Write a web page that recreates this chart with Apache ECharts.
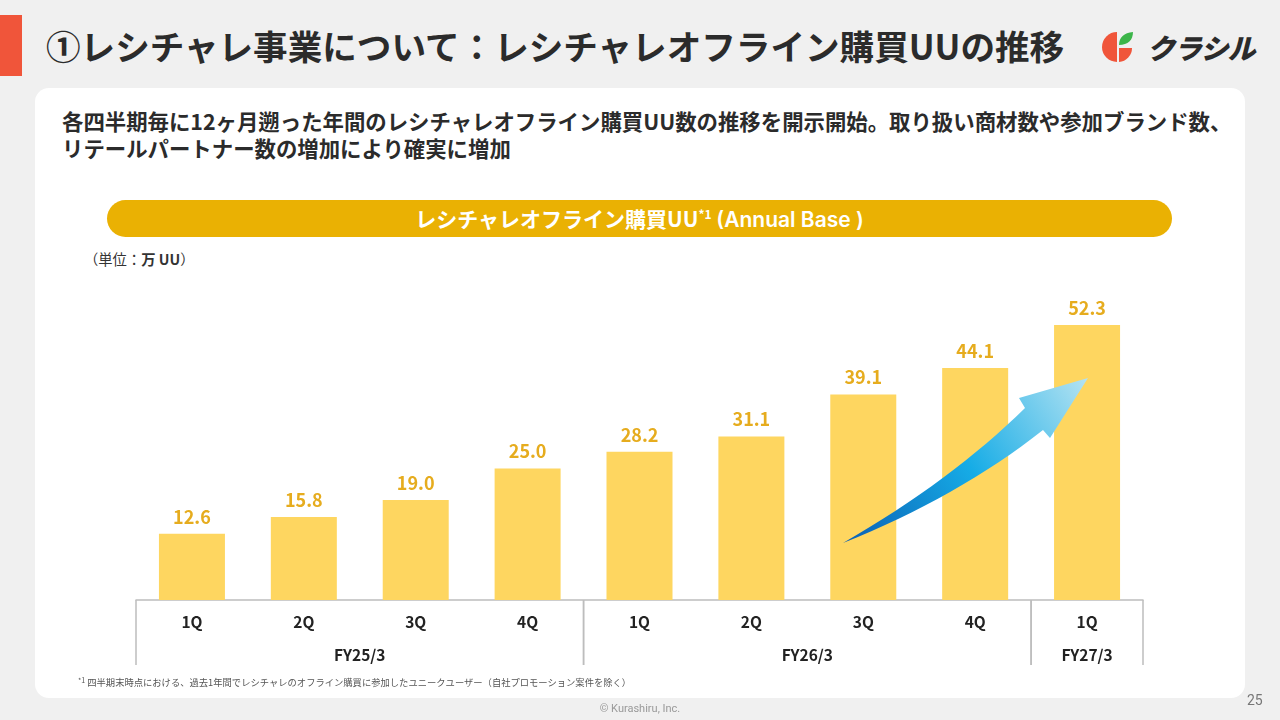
<!DOCTYPE html>
<html lang="ja">
<head>
<meta charset="utf-8">
<script src="https://cdn.jsdelivr.net/npm/echarts@6/dist/echarts.min.js"></script>
<style>
  html, body { margin: 0; padding: 0; }
  body {
    width: 1280px; height: 720px; position: relative; overflow: hidden;
    background: #f0f0f0; font-family: "Noto Sans CJK JP", "Noto Sans", sans-serif; color: #2b2b2b;
  }
  .accent { position: absolute; left: 0; top: 15px; width: 22px; height: 61px; background: #f0553a; }
  .title { position: absolute; left: 46px; top: 21px; font-size: 34.6px; font-weight: 700; line-height: 48px; color: #2b2b2b; white-space: nowrap; }
  .logo { position: absolute; left: 1101px; top: 29px; height: 36px; display: flex; align-items: center; }
  .logo span { font-size: 28px; font-weight: 900; font-style: italic; color: #2b2b2b; margin-left: 12px; letter-spacing: -1px; }
  .card { position: absolute; left: 35px; top: 88px; width: 1210px; height: 610px; background: #fff; border-radius: 14px; }
  .lead { position: absolute; left: 62px; top: 107px; font-size: 21.4px; font-weight: 700; line-height: 27px; color: #2b2b2b; white-space: nowrap; }
  .pill { position: absolute; left: 107px; top: 200px; width: 1065px; height: 37px; border-radius: 19px; background: #eab103;
          color: #fff; font-size: 21px; font-weight: 700; text-align: center; line-height: 37px; }
  .pill sup { font-size: 12px; line-height: 0; vertical-align: 8px; }
  .pill .en { font-family: "Inter", "Noto Sans", sans-serif; font-weight: 600; }
  .unit { position: absolute; left: 84px; top: 249px; font-size: 14.3px; line-height: 20px; color: #333; }
  .unit b { font-weight: 700; }
  #chart { position: absolute; left: 0; top: 0; width: 1280px; height: 720px; }
  .note { position: absolute; left: 78px; top: 675px; font-size: 9.3px; line-height: 14px; color: #555; white-space: nowrap; }
  .note sup { font-size: 7px; vertical-align: 3px; line-height: 0; }
  .copy { position: absolute; left: 0; width: 1280px; top: 702px; text-align: center; font-size: 11px; color: #999; font-family: "Roboto", sans-serif; }
  .page { position: absolute; left: 1247px; top: 692px; font-size: 14px; color: #777; font-family: "Roboto", sans-serif; }
</style>
</head>
<body>
<div class="accent"></div>
<div class="title">①レシチャレ事業について：レシチャレオフライン購買UUの推移</div>
<div class="logo">
  <svg width="34" height="34" viewBox="0 0 34 34">
    <path d="M16 2 A15 15 0 0 0 16 32 Z" fill="#f0553a"/>
    <path d="M18 18 L31 18 A14 14 0 0 1 18 32 Z" fill="#f0553a"/>
    <path d="M18 15 C18 7 23 3 32 2 C32 10 27 15 18 15 Z" fill="#3cb54a"/>
  </svg>
  <span>クラシル</span>
</div>
<div class="card"></div>
<div class="lead">各四半期毎に12ヶ月遡った年間のレシチャレオフライン購買UU数の推移を開示開始。取り扱い商材数や参加ブランド数、<br>リテールパートナー数の増加により確実に増加</div>
<div class="pill">レシチャレオフライン購買UU<sup>*1</sup> <span class="en">(Annual Base )</span></div>
<div class="unit">（単位：<b>万 UU</b>）</div>
<div id="chart"></div>
<div class="note"><sup>*1</sup> 四半期末時点における、過去1年間でレシチャレのオフライン購買に参加したユニークユーザー（自社プロモーション案件を除く）</div>
<div class="copy">© Kurashiru, Inc.</div>
<div class="page">25</div>

<script>
// --- データ ---
const periods = ['FY25/3 1Q', 'FY25/3 2Q', 'FY25/3 3Q', 'FY25/3 4Q', 'FY26/3 1Q', 'FY26/3 2Q', 'FY26/3 3Q', 'FY26/3 4Q', 'FY27/3 1Q'];
const quarters = ['1Q', '2Q', '3Q', '4Q', '1Q', '2Q', '3Q', '4Q', '1Q'];
const uuValues = [12.6, 15.8, 19.0, 25.0, 28.2, 31.1, 39.1, 44.1, 52.3];
const fyLabels = ['FY25/3', 'FY26/3', 'FY27/3'];
const fyStart = [0, 4, 8];
const fyEnd = [3, 7, 8];

const FONT = '"Noto Sans CJK JP", "Noto Sans", sans-serif';
const chart = echarts.init(document.getElementById('chart'));

// 年度ごとの区切り線とラベル（カテゴリ軸の座標から描く）
function renderFiscal(params, api) {
    const s = api.value(0), e = api.value(2);
    const band = api.size([1, 0])[0];
    const p0 = api.coord([s, 0]);
    const p1 = api.coord([e, 0]);
    const left = p0[0] - band / 2, right = p1[0] + band / 2, y = p0[1];
    const lineStyle = { stroke: '#bdbdbd', lineWidth: 1.5 };
    return {
        type: 'group',
        children: [
            { type: 'line', shape: { x1: left, y1: y, x2: left, y2: y + 65 }, style: lineStyle },
            { type: 'line', shape: { x1: right, y1: y, x2: right, y2: y + 65 }, style: lineStyle },
            {
                type: 'text',
                style: {
                    text: fyLabels[params.dataIndex], x: (left + right) / 2, y: y + 55,
                    align: 'center', verticalAlign: 'middle',
                    font: 'bold 15.5px ' + FONT, fill: '#222'
                }
            }
        ]
    };
}

// 装飾の矢印：二次ベジェで軸をなぞってポリゴン化
function quad(p0, c, p1, n) {
    const pts = [];
    for (let k = 0; k <= n; k++) {
        const t = k / n, u = 1 - t;
        pts.push([u * u * p0[0] + 2 * u * t * c[0] + t * t * p1[0], u * u * p0[1] + 2 * u * t * c[1] + t * t * p1[1]]);
    }
    return pts;
}
const arrowPts = []
    .concat(quad([843, 543], [952, 480], [1025, 408], 16))
    .concat([[1019, 398], [1088, 378], [1050, 438]])
    .concat(quad([1043, 430], [958, 497], [843, 543], 16));

const option = {
    animation: false,
    backgroundColor: 'transparent',
    grid: { left: 136, right: 137, top: 284.5, bottom: 120, containLabel: false },
    xAxis: {
        type: 'category',
        data: periods,
        axisLine: { lineStyle: { color: '#bdbdbd', width: 1.5 } },
        axisTick: { show: false },
        axisLabel: {
            margin: 14, color: '#222', fontSize: 15.5, fontWeight: 'bold', fontFamily: FONT,
            formatter: (v, i) => quarters[i]
        }
    },
    yAxis: { type: 'value', min: 0, max: 60, show: false, splitLine: { show: false } },
    series: [
        {
            type: 'bar',
            data: uuValues,
            barWidth: 66,
            itemStyle: { color: '#fed660' },
            label: {
                show: true, position: 'top', distance: 8,
                color: '#e6ac1e', fontSize: 18, fontWeight: 'bold', fontFamily: FONT,
                formatter: p => p.value.toFixed(1)
            },
            silent: true
        },
        {
            type: 'custom',
            data: fyStart.map((s, i) => [s, 0, fyEnd[i]]),
            renderItem: renderFiscal,
            clip: false,
            silent: true,
            z: 5
        }
    ],
    graphic: [
        {
            type: 'polygon',
            z: 10,
            silent: true,
            shape: { points: arrowPts },
            style: {
                fill: {
                    type: 'linear', x: 0, y: 1, x2: 1, y2: 0,
                    colorStops: [
                        { offset: 0, color: '#0a5fb4' },
                        { offset: 0.5, color: '#16ace6' },
                        { offset: 1, color: '#b5e3f2' }
                    ]
                }
            }
        }
    ]
};
chart.setOption(option);
</script>
</body>
</html>
